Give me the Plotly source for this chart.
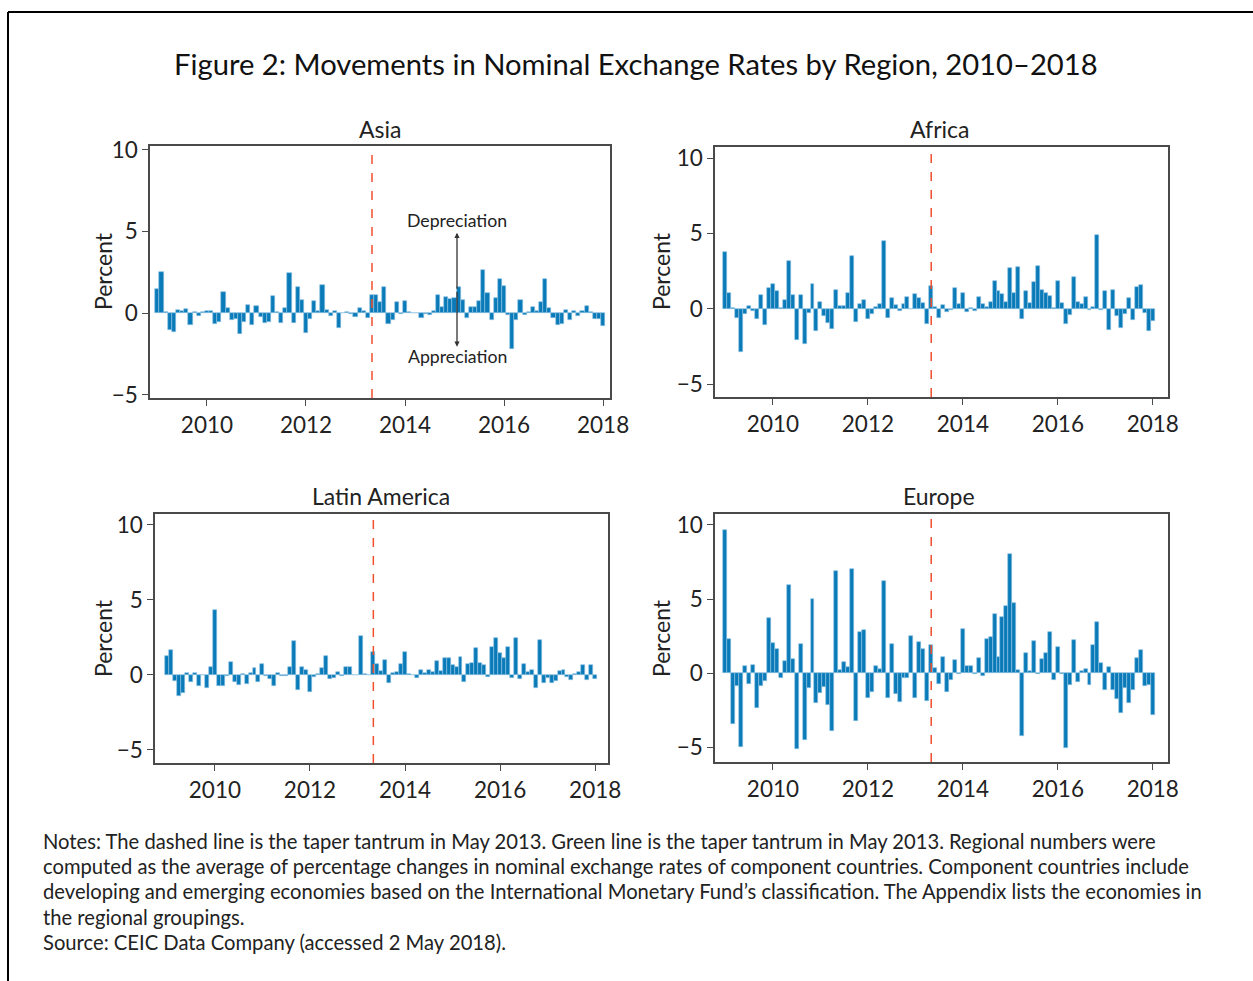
import plotly.graph_objects as go

# ---------------- data (monthly, Jan 2009 - Jan 2018) ----------------
asia = [1.49, 2.54, 0.05, -1.03, -1.18, 0.17, 0.12, 0.25, -0.74, 0.04, -0.17, 0.04,
        0.15, 0.12, -0.66, -0.56, 1.32, 0.29, -0.41, -0.37, -1.30, -0.52, 0.50, -0.74,
        0.41, -0.21, -0.58, -0.54, 1.07, 0.04, -0.62, 0.33, 2.46, -0.62, 1.59, 0.81,
        -1.22, -0.35, 0.72, 0.14, 1.71, 0.21, -0.19, 0.10, -0.91, 0.02, 0.04, -0.06,
        -0.25, 0.29, 0.10, -0.29, 1.12, 1.11, 0.65, 1.57, -0.64, -0.41, 0.70, -0.06,
        0.72, 0.04, 0.02, -0.02, -0.29, -0.05, -0.10, 0.10, 1.12, 0.37, 0.97, 0.87,
        0.91, 1.59, 0.79, -0.29, 0.39, 0.39, 0.72, 2.62, 1.24, -0.43, 0.93, 2.09,
        1.63, -0.14, -2.21, -0.41, 0.79, -0.14, 0.04, 0.35, 0.14, 0.68, 2.09, 0.29,
        -0.31, -0.72, -0.66, 0.21, -0.41, 0.14, -0.19, 0.10, 0.43, 0.04, -0.37, -0.37,
        -0.79]
africa = [3.80, 1.08, 0.07, -0.57, -2.83, -0.35, 0.20, -0.13, -0.66, 0.90, -1.08, 1.37,
          1.68, 1.21, 0.05, 0.62, 3.16, 0.90, -2.08, 0.90, -2.34, -0.29, 1.68, -1.43,
          0.49, -0.44, -0.90, -1.35, 1.28, 0.20, 0.20, 1.06, 3.51, -0.88, 0.31, 0.57,
          -0.68, -0.31, 0.11, 0.35, 4.48, -0.62, 0.73, 0.24, -0.11, 0.35, 0.79, -0.02,
          0.97, 0.75, 0.40, -1.02, 1.50, 0.11, -0.57, 0.26, -0.22, -0.07, 1.39, 0.35,
          1.08, -0.22, 0.07, -0.13, 0.77, 0.31, 0.11, 0.46, 1.85, 1.17, 0.99, 0.46,
          2.74, 1.08, 2.78, -0.68, 1.21, 0.38, 1.77, 2.87, 1.26, 1.04, 0.88, 0.04,
          1.88, 0.42, -0.99, -0.38, 2.14, 0.44, 0.31, 0.82, -0.07, 0.15, 4.88, -0.07,
          1.19, -1.39, 1.26, -0.49, -1.28, -0.31, 0.75, -0.73, 1.43, 1.61, -0.29, -1.43,
          -0.77]
latin_america = [1.24, 1.68, -0.42, -1.42, -1.22, 0.15, -0.49, 0.15, -0.75, -0.02, -0.86, 0.53,
                 4.34, -0.71, -0.75, -0.09, 0.86, -0.46, -0.69, 0.07, -0.62, 0.13, 0.46, -0.44,
                 0.75, -0.07, -0.29, -0.75, 0.15, -0.07, -0.07, 0.55, 2.26, -0.97, 0.53, 0.33,
                 -1.13, -0.15, 0.07, 0.49, 1.24, -0.29, -0.20, 0.22, -0.09, 0.51, 0.51, -0.02,
                 -0.02, 2.59, 0.04, 0.02, 1.55, 0.73, 0.27, 1.00, -0.55, 0.15, 0.22, 0.75,
                 1.55, 0.04, 0.02, -0.20, 0.33, 0.13, 0.33, 0.22, 0.95, 0.29, 1.10, 1.13,
                 0.66, 0.53, 1.17, -0.49, 0.73, 0.80, 1.81, 0.77, 0.66, -0.15, 1.88, 2.48,
                 1.48, 1.10, 1.88, -0.20, 2.46, -0.27, 0.73, 0.22, 0.33, -0.88, 2.30, -0.53,
                 -0.20, -0.55, -0.42, 0.24, 0.35, -0.15, -0.35, 0.04, 0.18, 0.69, -0.35, 0.66,
                 -0.27]
europe = [9.66, 2.30, -3.42, -0.85, -4.99, 0.47, -0.74, 0.58, -2.33, -0.85, -0.54, 3.69,
          2.04, 1.63, -0.31, 0.81, 5.95, 0.92, -5.12, 1.99, -4.54, -1.01, 4.97, -1.99,
          -1.34, -0.92, -2.17, -3.94, 6.89, 0.20, 0.76, 0.43, 7.05, -3.20, 2.80, 2.89,
          -1.68, -1.25, 0.47, 0.27, 6.22, -1.68, 1.95, -1.39, -1.92, -0.31, -0.31, 2.48,
          -1.66, 2.08, 1.61, -1.88, 1.88, 0.36, -0.72, 1.12, -1.25, -0.45, 0.87, -0.09,
          3.00, 0.45, 0.45, -0.07, 1.05, -0.18, 2.30, 2.44, 3.96, 1.10, 3.78, 4.56,
          8.05, 4.72, 0.20, -4.27, 1.36, 0.13, 2.17, -0.07, 0.96, 1.39, 2.80, -0.45,
          1.79, -0.09, -5.03, -0.81, 2.26, -0.58, 0.11, 0.25, -0.78, 1.88, 3.47, 0.69,
          -1.12, 0.40, -1.12, -1.72, -2.66, -0.98, -1.99, -1.14, 1.00, 1.59, -0.85, -0.81,
          -2.82]

regions = ["Asia", "Africa", "Latin America", "Europe"]
series = [asia, africa, latin_america, europe]
start_year = 2009
taper_tantrum = 2013 + 4 / 12          # May 2013
x_tickvals = [2010, 2012, 2014, 2016, 2018]
x_ticktext = ["2010", "2012", "2014", "2016", "2018"]
y_tickvals = [-5, 0, 5, 10]

# ---------------- layout geometry (pixels) ----------------
W, H = 1253, 981
FONT = "Lato"
BAR = "#0a7bb8"

def px(x):
    return x / W

def py(y):
    return 1 - y / H

panels = [
    dict(box=(150, 610, 146, 398), xr=[2008.85, 2018.14], yr=[-5.2, 10.23], tc=(380, 129), pc=(103, 271)),
    dict(box=(715, 1168, 147, 397), xr=[2008.78, 2018.32], yr=[-5.83, 10.73], tc=(939, 129), pc=(661, 271)),
    dict(box=(155, 608, 514, 763), xr=[2008.74, 2018.27], yr=[-5.87, 10.73], tc=(381, 496), pc=(103, 638)),
    dict(box=(715, 1168, 514, 762), xr=[2008.78, 2018.32], yr=[-6.0, 10.74], tc=(939, 496), pc=(661, 638)),
]

fig = go.Figure()
layout = dict(
    template="none",
    width=W, height=H, autosize=False,
    margin=dict(l=0, r=0, t=0, b=0, pad=0),
    paper_bgcolor="white", plot_bgcolor="white",
    showlegend=False, bargap=0,
    font=dict(family=FONT, color="#222"),
)

annotations = []
shapes = []

for k, (name, vals, p) in enumerate(zip(regions, series, panels)):
    sfx = "" if k == 0 else str(k + 1)
    xs = [start_year + i / 12 for i in range(len(vals))]
    fig.add_trace(go.Bar(
        x=xs, y=vals, width=1 / 12,
        marker=dict(color=BAR, line=dict(color="#8ec3e3", width=0.6)),
        xaxis="x" + sfx, yaxis="y" + sfx, name=name,
    ))
    x0, x1, yt, yb = p["box"]
    axis_common = dict(
        showline=True, linecolor="#4a4a4a", linewidth=1.5, mirror=True,
        ticks="outside", ticklen=6, tickwidth=1.2, tickcolor="#4a4a4a",
        showgrid=False, zeroline=False, automargin=False,
        tickfont=dict(family=FONT, size=22.5, color="#222"),
    )
    layout["xaxis" + sfx] = dict(
        axis_common, domain=[px(x0), px(x1)], range=p["xr"],
        tickvals=x_tickvals, ticktext=x_ticktext,
        anchor="y" + sfx,
    )
    layout["yaxis" + sfx] = dict(
        axis_common, domain=[py(yb), py(yt)], range=p["yr"],
        tickvals=y_tickvals, anchor="x" + sfx,
    )
    shapes.append(dict(
        type="line", xref="x" + sfx, yref="y" + sfx + " domain",
        x0=taper_tantrum, x1=taper_tantrum, y0=0, y1=1,
        line=dict(color="#f0502d", width=1.5, dash="dash"),
    ))
    annotations.append(dict(
        text=name, x=px(p["tc"][0]), y=py(p["tc"][1]), xref="paper", yref="paper",
        xanchor="center", yanchor="middle", showarrow=False,
        font=dict(family=FONT, size=23, color="#222"),
    ))
    annotations.append(dict(
        text="Percent", x=px(p["pc"][0]), y=py(p["pc"][1]), xref="paper", yref="paper",
        xanchor="center", yanchor="middle", showarrow=False, textangle=-90,
        font=dict(family=FONT, size=23, color="#222"),
    ))

arrow_x = 2015.05
arrow_mid = 1.4
annotations += [
    dict(text="", x=arrow_x, y=4.92, ax=arrow_x, ay=arrow_mid, xref="x", yref="y",
         axref="x", ayref="y", showarrow=True, arrowhead=2, arrowsize=0.8,
         arrowwidth=1.3, arrowcolor="#333"),
    dict(text="", x=arrow_x, y=-2.06, ax=arrow_x, ay=arrow_mid, xref="x", yref="y",
         axref="x", ayref="y", showarrow=True, arrowhead=2, arrowsize=0.8,
         arrowwidth=1.3, arrowcolor="#333"),
    dict(text="Depreciation", x=arrow_x, y=5.68, xref="x", yref="y", showarrow=False,
         xanchor="center", yanchor="middle", font=dict(family=FONT, size=17.7, color="#222")),
    dict(text="Appreciation", x=arrow_x, y=-2.68, xref="x", yref="y", showarrow=False,
         xanchor="center", yanchor="middle", font=dict(family=FONT, size=17.7, color="#222")),
]

annotations.append(dict(
    text="Figure 2: Movements in Nominal Exchange Rates by Region, 2010–2018",
    x=px(636), y=py(64), xref="paper", yref="paper", xanchor="center", yanchor="middle",
    showarrow=False, font=dict(family=FONT, size=29.2, color="#111"),
))

notes = [
    "Notes: The dashed line is the taper tantrum in May 2013. Green line is the taper tantrum in May 2013. Regional numbers were",
    "computed as the average of percentage changes in nominal exchange rates of component countries. Component countries include",
    "developing and emerging economies based on the International Monetary Fund’s classification. The Appendix lists the economies in",
    "the regional groupings.",
    "Source: CEIC Data Company (accessed 2 May 2018).",
]
note_y = [841, 866, 891, 917, 942]
for t, yy in zip(notes, note_y):
    annotations.append(dict(
        text=t, x=px(41), y=py(yy), xref="paper", yref="paper", xanchor="left",
        yanchor="middle", showarrow=False, font=dict(family=FONT, size=20.2, color="#222"),
    ))

shapes += [
    dict(type="line", xref="paper", yref="paper", x0=px(8), x1=1.0, y0=py(12), y1=py(12),
         line=dict(color="black", width=2)),
    dict(type="line", xref="paper", yref="paper", x0=px(8), x1=px(8), y0=py(12), y1=0,
         line=dict(color="black", width=2)),
]

layout["annotations"] = annotations
layout["shapes"] = shapes
fig.update_layout(**layout)

fig.write_html("out.html", config={"displayModeBar": False},
               post_script="document.body.style.margin='0';document.body.style.overflow='hidden';")
